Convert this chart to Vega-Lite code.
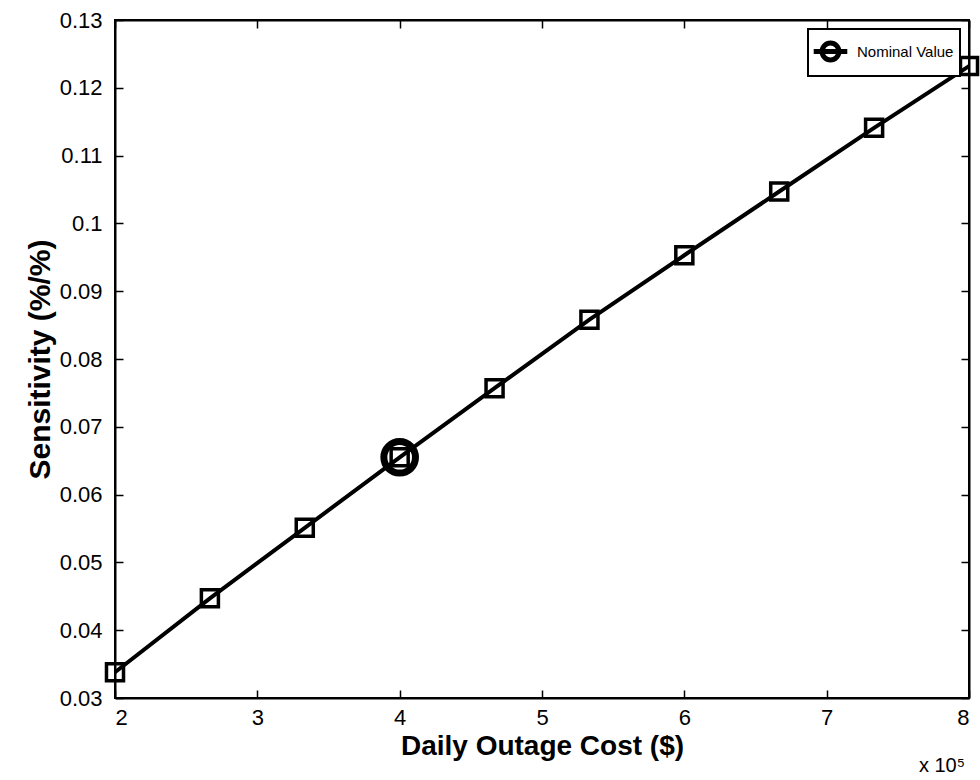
{
  "$schema": "https://vega.github.io/schema/vega-lite/v6.json",
  "width": 854,
  "height": 678,
  "autosize": {"type": "none"},
  "padding": {"left": 115, "top": 20, "right": 11, "bottom": 82},
  "background": "white",
  "config": {
    "font": "Liberation Sans",
    "view": {"stroke": "black", "strokeWidth": 2},
    "axis": {
      "domainColor": "black",
      "domainWidth": 2,
      "tickColor": "black",
      "tickWidth": 1.5,
      "tickSize": -8,
      "grid": false,
      "labelFontSize": 22,
      "labelColor": "black",
      "labelFont": "Liberation Sans",
      "titleFont": "Liberation Sans",
      "titleFontWeight": "bold",
      "titleColor": "black"
    },
    "legend": {"strokeWidth": 2}
  },
  "datasets": {
    "main": [
      {"cost": 2, "sens": 0.0338},
      {"cost": 2.6667, "sens": 0.0447},
      {"cost": 3.3333, "sens": 0.0551},
      {"cost": 4, "sens": 0.0655},
      {"cost": 4.6667, "sens": 0.0757},
      {"cost": 5.3333, "sens": 0.0858},
      {"cost": 6, "sens": 0.0953},
      {"cost": 6.6667, "sens": 0.1047},
      {"cost": 7.3333, "sens": 0.1141},
      {"cost": 8, "sens": 0.1232}
    ],
    "nominal": [
      {"cost": 4, "sens": 0.0655, "series": "Nominal Value"}
    ]
  },
  "resolve": {"axis": {"x": "independent", "y": "independent"}},
  "layer": [
    {
      "data": {"name": "main"},
      "mark": {"type": "line", "color": "black", "strokeWidth": 4},
      "encoding": {
        "x": {
          "field": "cost", "type": "quantitative",
          "scale": {"domain": [2, 8], "nice": false, "zero": false},
          "axis": {"orient": "bottom", "values": [2, 3, 4, 5, 6, 7, 8], "title": "Daily Outage Cost ($)", "labelPadding": 17, "titlePadding": 4, "titleFontSize": 28}
        },
        "y": {
          "field": "sens", "type": "quantitative",
          "scale": {"domain": [0.03, 0.13], "nice": false, "zero": false},
          "axis": {"orient": "left", "values": [0.03, 0.04, 0.05, 0.06, 0.07, 0.08, 0.09, 0.1, 0.11, 0.12, 0.13], "format": ".2~f", "title": "Sensitivity (%/%)", "labelPadding": 21, "titlePadding": 4, "titleFontSize": 30}
        }
      }
    },
    {
      "data": {"name": "main"},
      "mark": {"type": "point", "shape": "square", "size": 290, "strokeWidth": 3.5, "filled": false, "color": "black", "opacity": 1},
      "encoding": {
        "x": {"field": "cost", "type": "quantitative", "axis": null},
        "y": {"field": "sens", "type": "quantitative", "axis": null}
      }
    },
    {
      "data": {"name": "nominal"},
      "mark": {"type": "point", "shape": "circle", "size": 1000, "strokeWidth": 7, "filled": false, "opacity": 1},
      "encoding": {
        "x": {"field": "cost", "type": "quantitative", "axis": null},
        "y": {"field": "sens", "type": "quantitative", "axis": null},
        "color": {
          "field": "series", "type": "nominal",
          "scale": {"range": ["black"]},
          "legend": {
            "title": null,
            "orient": "top-right",
            "offset": 9,
            "symbolType": "M -1.2 0 L 1.2 0 M 0.6 0 A 0.6 0.6 0 1 1 -0.6 0 A 0.6 0.6 0 1 1 0.6 0",
            "symbolSize": 784,
            "symbolStrokeWidth": 5,
            "symbolStrokeColor": "black",
            "symbolFillColor": "white",
            "strokeColor": "black",
            "fillColor": "white",
            "padding": 6,
            "labelFontSize": 15,
            "labelColor": "black",
            "labelFont": "Liberation Sans",
            "labelOffset": 10
          }
        }
      }
    },
    {
      "data": {"name": "nominal"},
      "mark": {"type": "text", "text": "x 10⁵", "align": "right", "baseline": "middle", "dy": 68, "dx": -4, "fontSize": 20, "font": "Liberation Sans", "color": "black"},
      "encoding": {
        "x": {"datum": 8, "type": "quantitative", "axis": null},
        "y": {"datum": 0.03, "type": "quantitative", "axis": null}
      }
    },
    {
      "data": {"name": "nominal"},
      "mark": {"type": "point", "opacity": 0},
      "encoding": {
        "x": {"field": "cost", "type": "quantitative", "axis": {"orient": "top", "values": [2, 3, 4, 5, 6, 7, 8], "labels": false, "title": null}},
        "y": {"field": "sens", "type": "quantitative", "axis": {"orient": "right", "values": [0.03, 0.04, 0.05, 0.06, 0.07, 0.08, 0.09, 0.1, 0.11, 0.12, 0.13], "labels": false, "title": null}}
      }
    }
  ]
}
